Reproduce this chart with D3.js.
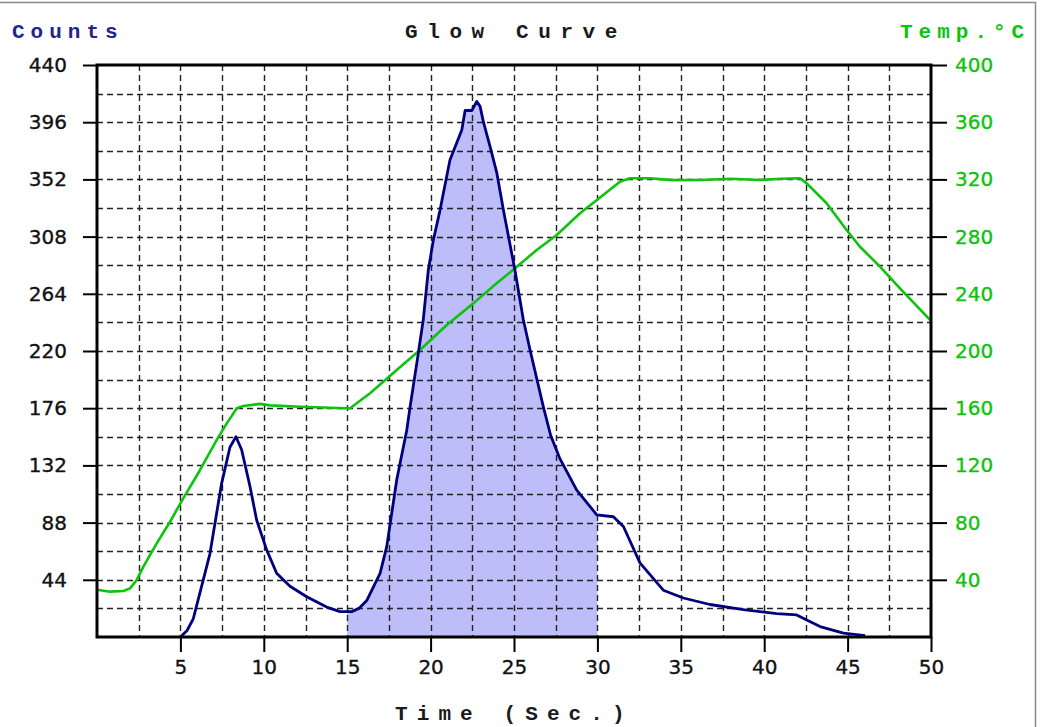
<!DOCTYPE html>
<html>
<head>
<meta charset="UTF-8">
<script src="https://cdn.jsdelivr.net/npm/d3@7"></script>
<style>
body{margin:0;background:#fff;}
.mono{font-family:"Liberation Mono",monospace;font-weight:bold;}
.tick text{font-family:"DejaVu Sans",Verdana,sans-serif;font-size:20px;}
</style>
</head>
<body>
<script>

var width = 1040, height = 727;
var plotLeft = 97, plotRight = 931, plotTop = 65, plotBottom = 637;

// glow curve (counts vs seconds)
var glowTime = [5.0,5.4,5.77,6.27,6.77,7.17,7.47,7.97,8.33,8.67,9.17,9.57,10.17,10.77,11.57,12.57,13.77,14.57,15.27,15.7,16.17,16.97,17.37,17.97,18.57,18.77,19.26,19.56,19.86,20.16,20.56,21.16,21.87,22.07,22.47,22.77,22.97,23.17,23.57,23.97,24.37,25.06,25.56,25.96,26.76,27.2,27.76,28.76,29.96,30.96,31.56,32.55,33.95,35.15,36.75,38.75,40.75,41.95,42.55,43.35,44.75,46.05];
var glowCounts = [0,5,14,39,64,95,118,146,154,144,116,90,67,49,39,31,23,19.5,19.5,22,28,49,69.5,121,159,177,218,244,282,305,328,367,390,405,405,412,408,396,377,357,328,282,244,221,177,155,137,113,94,92.5,85,57,36,30,25,21,18,17,13,8,3,1];

// temperature profile
var tempTime = [0,0.78,1.58,1.98,2.38,2.78,3.58,4.38,5.17,6.18,7.18,7.78,8.38,8.77,9.77,10.37,12.2,14.9,15.17,16.37,17.97,19.36,20.97,22.56,23.96,25.06,26.36,27.56,28.96,30.35,31.35,31.95,33.15,34.5,36.2,38,39.75,41,42.15,42.55,43.74,44.94,45.74,46.94,48.14,50];
var tempC = [33,31.7,32.2,34,39.9,49.2,65.5,80.6,97,116.8,137.8,149.4,159.9,161.5,163,162,161,160,160,170.4,186.7,200.7,218.2,233.3,247.3,257.8,270.6,281.1,296.3,309.1,318.4,320.8,320.8,319.5,319.6,320.5,319.6,320.5,320.8,317.2,303.3,284.6,272.9,259,243.8,221];

// integration region
var roiStart = 15, roiEnd = 30;

var timeTicks = [5,10,15,20,25,30,35,40,45,50];
var countTicks = [44,88,132,176,220,264,308,352,396,440];
var tempTicks = [40,80,120,160,200,240,280,320,360,400];

var glow = glowTime.map(function(t, i){ return {t:t, v:glowCounts[i]}; });
var temp = tempTime.map(function(t, i){ return {t:t, v:tempC[i]}; });

var x = d3.scaleLinear().domain([0, 50]).range([plotLeft, plotRight]);
var y = d3.scaleLinear().domain([0, 440]).range([plotBottom, plotTop]);
var yT = d3.scaleLinear().domain([0, 400]).range([plotBottom, plotTop]);

var svg = d3.select('body').append('svg')
    .attr('width', width)
    .attr('height', height);

// window border bits
svg.append('line').attr('x1', 0).attr('x2', 1036).attr('y1', 2.5).attr('y2', 2.5)
    .attr('stroke', '#8a8a8a').attr('stroke-width', 1.5);
svg.append('line').attr('x1', 1035.5).attr('x2', 1035.5).attr('y1', 2).attr('y2', height)
    .attr('stroke', '#8a8a8a').attr('stroke-width', 1.5);

// shaded region
svg.append('clipPath').attr('id', 'roi')
    .append('rect')
    .attr('x', x(roiStart)).attr('y', plotTop)
    .attr('width', x(roiEnd) - x(roiStart))
    .attr('height', plotBottom - plotTop);

var area = d3.area()
    .x(function(d){ return x(d.t); })
    .y0(plotBottom)
    .y1(function(d){ return y(d.v); });

svg.append('path')
    .datum(glow)
    .attr('clip-path', 'url(#roi)')
    .attr('d', area)
    .attr('fill', '#bdbdfa');

// grid
var grid = svg.append('g')
    .attr('stroke', '#222')
    .attr('stroke-width', 1.4)
    .attr('stroke-dasharray', '6,4');

grid.selectAll('.vg')
    .data(d3.range(2.5, 50, 2.5))
    .enter().append('line')
    .attr('x1', function(d){ return Math.round(x(d)) + 0.5; })
    .attr('x2', function(d){ return Math.round(x(d)) + 0.5; })
    .attr('y1', plotTop).attr('y2', plotBottom);

grid.selectAll('.hg')
    .data(d3.range(22, 440, 22))
    .enter().append('line')
    .attr('y1', function(d){ return Math.round(y(d)) + 0.5; })
    .attr('y2', function(d){ return Math.round(y(d)) + 0.5; })
    .attr('x1', plotLeft).attr('x2', plotRight);

var line = d3.line()
    .x(function(d){ return x(d.t); })
    .y(function(d){ return y(d.v); });

var lineT = d3.line()
    .x(function(d){ return x(d.t); })
    .y(function(d){ return yT(d.v); });

svg.append('path')
    .datum(temp)
    .attr('d', lineT)
    .attr('fill', 'none')
    .attr('stroke', '#0cc40c')
    .attr('stroke-width', 2.6)
    .attr('stroke-linejoin', 'round');

svg.append('path')
    .datum(glow)
    .attr('d', line)
    .attr('fill', 'none')
    .attr('stroke', '#00007f')
    .attr('stroke-width', 2.8)
    .attr('stroke-linejoin', 'round');

// frame
svg.append('rect')
    .attr('x', plotLeft).attr('y', plotTop)
    .attr('width', plotRight - plotLeft).attr('height', plotBottom - plotTop)
    .attr('fill', 'none')
    .attr('stroke', '#000')
    .attr('stroke-width', 3);

// axes
var axL = svg.append('g')
    .attr('transform', 'translate(' + plotLeft + ',0)')
    .call(d3.axisLeft(y).tickValues(countTicks).tickSize(14).tickPadding(16));

var axR = svg.append('g')
    .attr('transform', 'translate(' + plotRight + ',0)')
    .call(d3.axisRight(yT).tickValues(tempTicks).tickSize(16).tickPadding(8));

var axB = svg.append('g')
    .attr('transform', 'translate(0,' + plotBottom + ')')
    .call(d3.axisBottom(x).tickValues(timeTicks).tickSize(15).tickPadding(8));

[axL, axR, axB].forEach(function(a){
    a.select('.domain').remove();
    a.selectAll('.tick line').attr('stroke', '#000').attr('stroke-width', 2);
    a.selectAll('.tick text').attr('fill', '#111').attr('stroke', '#111').attr('stroke-width', 0.35);
});
axR.selectAll('.tick text').attr('fill', '#0cc40c').attr('stroke', '#0cc40c');

// titles
svg.append('text').attr('class', 'mono')
    .attr('x', 405).attr('y', 38)
    .attr('font-size', 21)
    .attr('letter-spacing', 9.6)
    .attr('fill', '#1a1a1a')
    .text('Glow Curve');

svg.append('text').attr('class', 'mono')
    .attr('x', 12).attr('y', 38)
    .attr('font-size', 21)
    .attr('letter-spacing', 6)
    .attr('fill', '#23238f')
    .text('Counts');

svg.append('text').attr('class', 'mono')
    .attr('x', 900).attr('y', 38)
    .attr('font-size', 21)
    .attr('letter-spacing', 6)
    .attr('fill', '#0cc40c')
    .text('Temp.°C');

svg.append('text').attr('class', 'mono')
    .attr('x', 395).attr('y', 720)
    .attr('font-size', 21)
    .attr('letter-spacing', 9.1)
    .attr('fill', '#1a1a1a')
    .text('Time (Sec.)');

</script>
</body>
</html>
